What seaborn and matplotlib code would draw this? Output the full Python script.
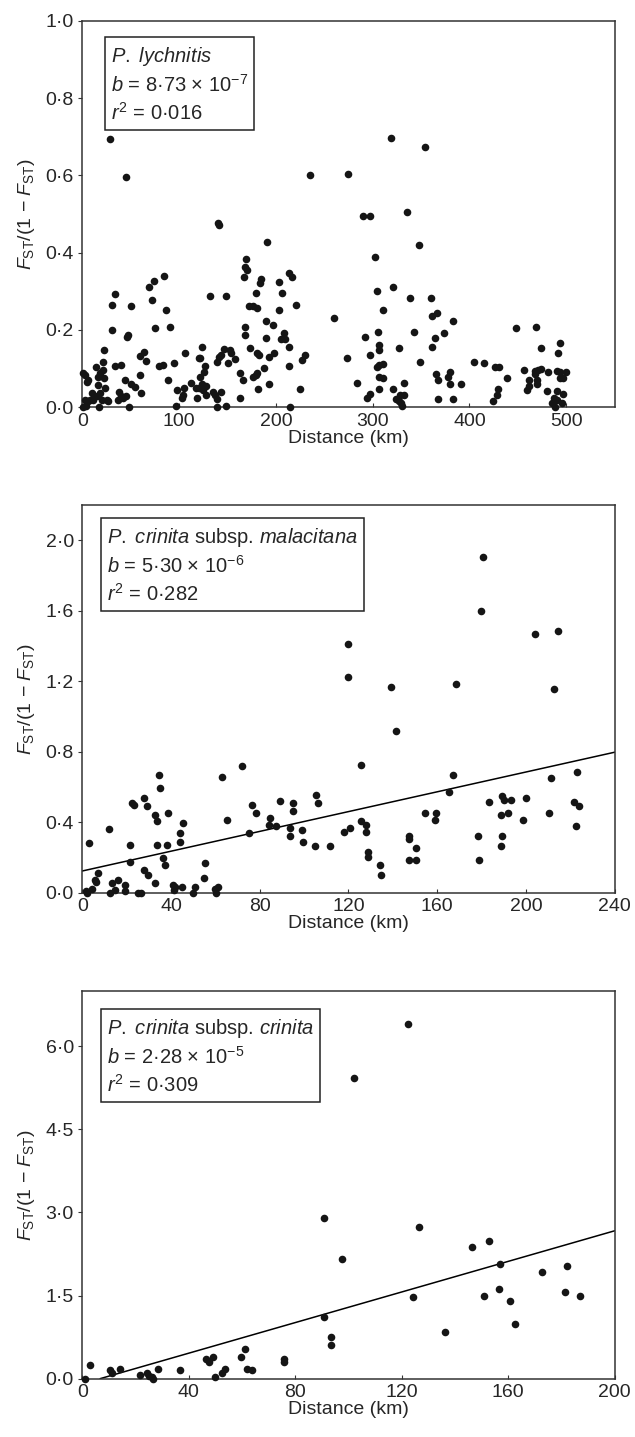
import matplotlib
matplotlib.use("Agg")
import matplotlib.pyplot as plt
import seaborn as sns
from matplotlib.ticker import FuncFormatter, MultipleLocator

# --- data ---
# P. lychnitis
p1_dist = [28.9, 45.2, 235, 319, 354, 275, 290, 297, 335.5,
           141, 140.5, 190.5, 84, 74, 69, 33.4, 30.3, 50.3, 72.3, 86.9, 30.3, 75.5, 90.7, 46.2, 47.6,
           22, 64, 60, 65.8, 105.8, 124, 132, 148, 167, 169.6, 168.5, 170, 184, 184.8, 203.4, 213.7,
           217, 221, 206.5, 172.7, 176, 180, 179.6, 203, 189.6, 196.5, 168, 168, 190, 208, 209, 205,
           213.7, 173, 180, 182.4, 198.5, 193, 230, 227, 213.7, 224.4, 215, 192.7, 187.6, 179, 180.6,
           176.5, 181.3, 162.7, 166, 162.7, 153, 154, 146, 158, 151, 141.3, 143.4, 139.2, 143.7, 134.7,
           137.5, 139.3, 139.3, 148, 127, 125.4, 122, 120.7, 122, 124, 128, 125, 121, 117.5, 128,
           112.7, 118.6, 98, 105.5, 104, 102.7, 97, 94.4, 83, 79.6, 89, 60, 54.4, 60.7, 50.7, 43.8,
           40.3, 33.4, 45, 42, 38, 36.5, 40, 48.6,
           25.2, 17.2, 20, 14.9, 18.3, 15.9, 23.5, 22.8, 16.5, 21.7, 18.3, 21.7, 14.2, 26.7,
           9.7, 11.4, 5.9, 3.5, 3.1, 5.2, 2.8, 1.2, 5.9, 0.3, 7.5,
           347.5, 302, 304, 321, 339, 360, 310.5, 260, 361, 366, 383, 292, 305, 342.6, 374, 364, 307,
           307, 327, 361, 297, 273.7, 349, 304, 307, 310.5, 307, 310.5, 284, 332, 307, 321, 297, 293.7,
           324, 327, 329, 332, 328, 330,
           365.6, 367.4, 379.5, 378, 379.5, 391, 367.4, 383, 404.7, 414.7, 426, 430, 438.5, 429, 428,
           424.7, 448.5, 468.8, 473.6, 493.6, 491.9, 456.7,
           468, 471, 474, 468, 481.6, 490, 493.5, 500, 494, 497,
           462, 462, 459, 470, 470, 480, 490, 497, 487, 490, 485, 488, 496]
p1_fst = [0.694, 0.595, 0.600, 0.698, 0.673, 0.604, 0.496, 0.496, 0.505,
          0.472, 0.478, 0.427, 0.341, 0.328, 0.312, 0.294, 0.264, 0.261, 0.278, 0.252, 0.200, 0.205,
          0.209, 0.183, 0.188, 0.148, 0.142, 0.133, 0.119, 0.140, 0.157, 0.287, 0.287, 0.337, 0.384,
          0.364, 0.356, 0.321, 0.332, 0.325, 0.347, 0.338, 0.264, 0.295, 0.261, 0.262, 0.256, 0.295,
          0.252, 0.222, 0.213, 0.209, 0.187, 0.180, 0.192, 0.176, 0.176, 0.157, 0.153, 0.140, 0.135,
          0.140, 0.129, 0.135, 0.122, 0.108, 0.047, 0.0, 0.060, 0.101, 0.084, 0.088, 0.079, 0.047,
          0.088, 0.071, 0.025, 0.147, 0.140, 0.150, 0.125, 0.114, 0.131, 0.135, 0.118, 0.040, 0.040,
          0.032, 0.021, 0.0, 0.003, 0.108, 0.092, 0.079, 0.127, 0.127, 0.060, 0.055, 0.045, 0.050,
          0.050, 0.032, 0.064, 0.023, 0.045, 0.049, 0.032, 0.023, 0.004, 0.114, 0.110, 0.108, 0.071,
          0.084, 0.053, 0.038, 0.060, 0.071, 0.110, 0.108, 0.030, 0.025, 0.040, 0.018, 0.030, 0.0,
          0.019, 0.0, 0.019, 0.028, 0.036, 0.058, 0.049, 0.075, 0.079, 0.097, 0.088, 0.118, 0.105, 0.015,
          0.036, 0.019, 0.015, 0.002, 0.019, 0.066, 0.084, 0.088, 0.071, 0.0, 0.019,
          0.420, 0.389, 0.300, 0.312, 0.282, 0.282, 0.252, 0.230, 0.235, 0.243, 0.222, 0.183, 0.196,
          0.196, 0.192, 0.180, 0.161, 0.149, 0.154, 0.157, 0.135, 0.128, 0.118, 0.105, 0.110, 0.111,
          0.079, 0.075, 0.064, 0.064, 0.047, 0.047, 0.034, 0.025,
          0.021, 0.016, 0.010, 0.032, 0.032, 0.003,
          0.086, 0.071, 0.090, 0.079, 0.060, 0.060, 0.021, 0.021, 0.118, 0.114, 0.103, 0.103, 0.077,
          0.047, 0.032, 0.016, 0.205, 0.209, 0.154, 0.167, 0.140, 0.097,
          0.093, 0.097, 0.100, 0.085, 0.092, 0.094, 0.090, 0.090, 0.075, 0.075,
          0.070, 0.055, 0.044, 0.070, 0.060, 0.042, 0.042, 0.034, 0.025, 0.019, 0.012, 0.0, 0.012]

# P. crinita subsp. malacitana
p2_dist = [180.5, 179.8, 119.9, 203.9, 214.3, 119.9, 139.1, 168.5, 212.7, 141.5, 125.7, 167, 211.2,
           223.1, 165.5, 105.4, 106.3, 183.4, 189.3, 190.2, 193.2, 200.1, 221.6, 224, 154.3, 159.3,
           158.8, 188.7, 191.7, 210.3, 198.5, 222.4, 125.7, 128, 128, 118, 120.5, 99.1, 99.5, 104.8,
           111.6, 128.7, 128.7, 134, 134.8, 147.4, 147.4, 150.4, 147.4, 150.4, 178.3, 179, 189.4, 188.7,
           72, 63, 34.5, 35.2, 28, 29.1, 22.3, 23.4, 32.8, 33.6, 38.8, 45.6, 44.1, 44.1, 33.6, 38.1,
           21.7, 11.9, 2.9, 21.7, 36.3, 37.4, 55.4, 54.7, 28, 29.8, 32.8, 7.2, 5.7, 6.2, 13.6, 16.3,
           14.8, 12.5, 19.4, 19.4, 4.2, 1.8, 2.2, 25.3, 26.4, 41.1, 41.4, 41.9, 44.9, 50.1, 50.9, 59.9,
           60.4, 61, 75, 76.5, 78.5, 65.2, 84.5, 89, 84, 87.5, 93.5, 93.5, 95, 95]
p2_fst = [1.903, 1.601, 1.413, 1.468, 1.487, 1.223, 1.167, 1.186, 1.157, 0.920, 0.725, 0.668, 0.649,
          0.687, 0.573, 0.554, 0.509, 0.516, 0.546, 0.527, 0.527, 0.535, 0.516, 0.489, 0.452, 0.452,
          0.414, 0.442, 0.452, 0.452, 0.412, 0.376, 0.404, 0.385, 0.347, 0.347, 0.366, 0.357, 0.290,
          0.262, 0.262, 0.233, 0.205, 0.158, 0.101, 0.319, 0.304, 0.252, 0.186, 0.186, 0.319, 0.186,
          0.319, 0.262,
          0.717, 0.658, 0.668, 0.594, 0.537, 0.489, 0.509, 0.495, 0.442, 0.404, 0.452, 0.395, 0.338,
          0.290, 0.271, 0.271, 0.271, 0.364, 0.281, 0.176, 0.196, 0.158, 0.167, 0.082, 0.129, 0.101,
          0.053, 0.110, 0.072, 0.063, 0.053, 0.072, 0.015, 0.0, 0.044, 0.011, 0.019, 0.011, 0.0, 0.0,
          0.0, 0.044, 0.015, 0.034, 0.034, 0.0, 0.034, 0.019, 0.0, 0.031, 0.338, 0.495, 0.452, 0.414,
          0.423, 0.518, 0.385, 0.376, 0.366, 0.319, 0.509, 0.461]

# P. crinita subsp. crinita
p3_dist = [122.2, 101.9, 90.9, 126.5, 97.7, 146.4, 152.6, 157, 172.7, 182, 181.5, 187, 124.1, 150.8,
           156.4, 160.8, 162.7, 136.4, 90.9, 93.4, 93.4, 1.0, 2.9, 10.4, 11, 14.2, 21.7, 24.2, 25.1,
           26.1, 26.7, 28.6, 36.7, 46.5, 47.7, 49, 49.9, 52.4, 53.6, 59.7, 61.2, 62, 63.7, 75.9, 75.9]
p3_fst = [6.41, 5.42, 2.90, 2.73, 2.16, 2.37, 2.49, 2.07, 1.92, 2.04, 1.56, 1.50, 1.47, 1.50,
          1.62, 1.41, 0.99, 0.84, 1.11, 0.75, 0.60, 0.0, 0.24, 0.157, 0.097, 0.181, 0.067, 0.097, 0.055,
          0.036, 0.0, 0.181, 0.151, 0.361, 0.30, 0.40, 0.036, 0.097, 0.181, 0.392, 0.542, 0.181, 0.151,
          0.361, 0.30]

# fitted lines as drawn (endpoints)
p2_line_x = [0, 240]
p2_line_y = [0.123, 0.797]
p3_line_x = [6.7, 200]
p3_line_y = [0.0, 2.67]

labels = [
    ['$P.$ $lychnitis$', '$b$ = 8·73 × 10$^{-7}$', '$r^2$ = 0·016'],
    ['$P.$ $crinita$ subsp. $malacitana$', '$b$ = 5·30 × 10$^{-6}$', '$r^2$ = 0·282'],
    ['$P.$ $crinita$ subsp. $crinita$', '$b$ = 2·28 × 10$^{-5}$', '$r^2$ = 0·309'],
]
# where each text block sits (axes fraction)
box_pos = [(0.054, 0.938), (0.046, 0.946), (0.046, 0.934)]

sns.set_style("ticks")
plt.rcParams['font.family'] = ['Liberation Sans', 'DejaVu Sans']
plt.rcParams['mathtext.fontset'] = 'custom'
plt.rcParams['mathtext.rm'] = 'Liberation Sans'
plt.rcParams['mathtext.it'] = 'Liberation Sans:italic'
plt.rcParams['mathtext.default'] = 'it'
plt.rcParams['axes.unicode_minus'] = True

fig = plt.figure(figsize=(6.35, 14.37), dpi=100)
axes = [fig.add_axes([0.1296, 0.7166, 0.8384, 0.2688]),
        fig.add_axes([0.1296, 0.3788, 0.8384, 0.2698]),
        fig.add_axes([0.1296, 0.0406, 0.8384, 0.2698])]

dot = FuncFormatter(lambda v, p: f'{v:.1f}'.replace('.', '·'))
intf = FuncFormatter(lambda v, p: f'{v:.0f}')

settings = [
    (p1_dist, p1_fst, None, None, (0, 550), (0, 1.0), 100, 0.2),
    (p2_dist, p2_fst, p2_line_x, p2_line_y, (0, 240), (0, 2.2), 40, 0.4),
    (p3_dist, p3_fst, p3_line_x, p3_line_y, (0, 200), (0, 7.0), 40, 1.5),
]

for ax, (xs, ys, lx, ly, xl, yl, xstep, ystep), lab, pos in zip(axes, settings, labels, box_pos):
    sns.scatterplot(x=xs, y=ys, ax=ax, color='#151515', s=30, linewidth=0, clip_on=False, zorder=3)
    if lx is not None:
        sns.lineplot(x=lx, y=ly, ax=ax, color='black', linewidth=1.1)
    ax.set_xlim(*xl)
    ax.set_ylim(*yl)
    ax.xaxis.set_major_locator(MultipleLocator(xstep))
    ax.yaxis.set_major_locator(MultipleLocator(ystep))
    ax.yaxis.set_major_formatter(dot)
    ax.xaxis.set_major_formatter(intf)
    ax.tick_params(axis='x', direction='in', length=3, labelsize=14, pad=4, color='#333333')
    ax.tick_params(axis='y', direction='out', length=3, labelsize=14, pad=3, color='#333333')
    for sp in ax.spines.values():
        sp.set_color('#333333')
        sp.set_linewidth(1.1)
    ax.set_xlabel('Distance (km)', fontsize=14, labelpad=0)
    ax.set_ylabel('$F_{\\mathrm{ST}}$/(1 − $F_{\\mathrm{ST}}$)', fontsize=14, labelpad=6)
    ax.text(pos[0], pos[1], '\n'.join(lab), transform=ax.transAxes, va='top', ha='left',
            fontsize=14.5, linespacing=1.35,
            bbox=dict(boxstyle='square,pad=0.3', fc='white', ec='#222222', lw=1.1), zorder=4)

fig.savefig('out.png', dpi=100)
